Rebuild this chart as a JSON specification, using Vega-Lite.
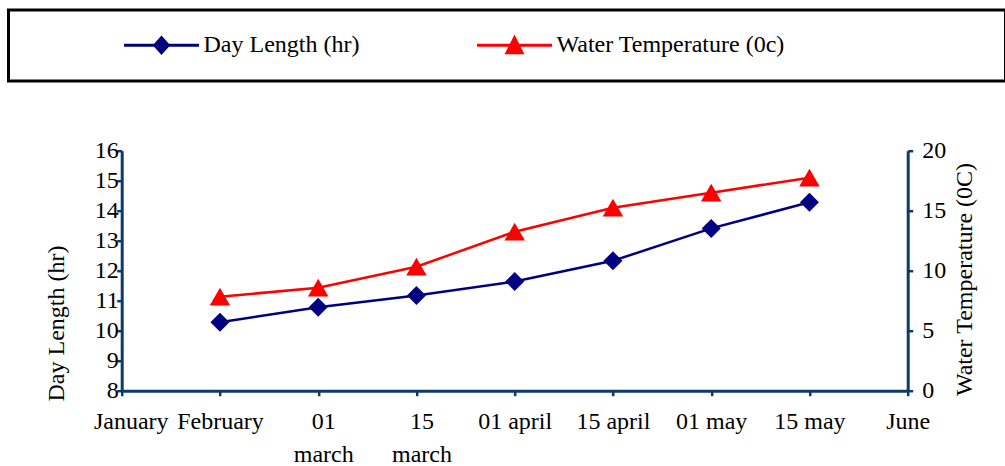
{
  "$schema": "https://vega.github.io/schema/vega-lite/v6.json",
  "width": 786,
  "height": 240,
  "autosize": "none",
  "padding": {"left": 121.7, "top": 150.7, "right": 97.3, "bottom": 75.3},
  "background": "white",
  "config": {
    "view": {"stroke": null},
    "font": "Liberation Serif",
    "axis": {
      "grid": false,
      "labelFont": "Liberation Serif",
      "labelFontSize": 24,
      "labelColor": "black",
      "titleFont": "Liberation Serif",
      "titleFontSize": 24,
      "titleFontWeight": "normal",
      "titleColor": "black",
      "domainColor": "#0e3a6a",
      "domainWidth": 3,
      "tickColor": "#0e3a6a",
      "tickWidth": 2.5,
      "tickSize": 5
    }
  },
  "data": {
    "values": [
      {"date": "February", "series": "Day Length (hr)", "value": 10.28},
      {"date": "01 march", "series": "Day Length (hr)", "value": 10.78},
      {"date": "15 march", "series": "Day Length (hr)", "value": 11.17},
      {"date": "01 april", "series": "Day Length (hr)", "value": 11.64},
      {"date": "15 april", "series": "Day Length (hr)", "value": 12.33},
      {"date": "01 may", "series": "Day Length (hr)", "value": 13.41},
      {"date": "15 may", "series": "Day Length (hr)", "value": 14.28},
      {"date": "February", "series": "Water Temperature (0c)", "value": 7.83},
      {"date": "01 march", "series": "Water Temperature (0c)", "value": 8.58},
      {"date": "15 march", "series": "Water Temperature (0c)", "value": 10.33},
      {"date": "01 april", "series": "Water Temperature (0c)", "value": 13.25},
      {"date": "15 april", "series": "Water Temperature (0c)", "value": 15.25},
      {"date": "01 may", "series": "Water Temperature (0c)", "value": 16.5},
      {"date": "15 may", "series": "Water Temperature (0c)", "value": 17.75}
    ]
  },
  "encoding": {
    "x": {
      "field": "date",
      "type": "ordinal",
      "scale": {
        "type": "point",
        "padding": 0,
        "domain": ["January", "February", "01 march", "15 march", "01 april", "15 april", "01 may", "15 may", "June"]
      },
      "axis": {
        "title": null,
        "labelAngle": 0,
        "labelPadding": 14,
        "labelOverlap": false,
        "labelLineHeight": 33,
        "labelOffset": {
          "condition": [
            {"test": "datum.value == 'January'", "value": 9},
            {"test": "indexof(datum.value, 'march') >= 0", "value": 5}
          ],
          "value": 0
        },
        "labelExpr": "datum.value == '01 march' ? ['01', 'march'] : datum.value == '15 march' ? ['15', 'march'] : datum.value"
      }
    },
    "color": {
      "field": "series",
      "type": "nominal",
      "scale": {
        "domain": ["Day Length (hr)", "Water Temperature (0c)"],
        "range": ["#000080", "#ff0000"]
      },
      "legend": {
        "orient": "none",
        "legendX": -113.2,
        "legendY": -140.7,
        "direction": "horizontal",
        "title": " ",
        "titleOrient": "right",
        "titleFontSize": 1,
        "titlePadding": 197,
        "padding": 23.5,
        "strokeColor": "black",
        "labelFont": "Liberation Serif",
        "labelFontSize": 24,
        "labelColor": "black",
        "labelLimit": 400,
        "symbolSize": 5625,
        "clipHeight": 23,
        "symbolOffset": 90.5,
        "labelOffset": 3,
        "columnPadding": 25,
        "symbolStrokeWidth": 3,
        "encode": {
          "legend": {
            "update": {
              "strokeWidth": {"value": 3}
            }
          },
          "symbols": {
            "update": {
              "shape": {"signal": "datum.value === 'Day Length (hr)' ? 'M-1,0H1M0,-0.2L0.18,0L0,0.2L-0.18,0Z' : 'M-1,0H1M0,-0.195L0.2,0.2L-0.2,0.2Z'"},
              "fill": {"signal": "datum.value === 'Day Length (hr)' ? '#000080' : '#ff0000'"},
              "stroke": {"signal": "datum.value === 'Day Length (hr)' ? '#000080' : '#ff0000'"},
              "strokeWidth": {"value": 3},
              "opacity": {"value": 1}
            }
          }
        }
      }
    }
  },
  "layer": [
    {
      "transform": [{"filter": "datum.series === 'Day Length (hr)'"}],
      "encoding": {
        "y": {
          "field": "value",
          "type": "quantitative",
          "scale": {"domain": [8, 16], "nice": false, "zero": false},
          "axis": {
            "orient": "left",
            "values": [8, 9, 10, 11, 12, 13, 14, 15, 16],
            "title": "Day Length (hr)",
            "titleX": -65,
            "titleY": 172.3,
            "titleAngle": 270,
            "titleBaseline": "middle",
            "titleAlign": "center",
            "labelPadding": -1.5
          }
        }
      },
      "layer": [
        {"mark": {"type": "line", "strokeWidth": 2.5}},
        {"mark": {"type": "point", "shape": "diamond", "filled": true, "size": 361, "opacity": 1}}
      ]
    },
    {
      "transform": [{"filter": "datum.series === 'Water Temperature (0c)'"}],
      "encoding": {
        "y": {
          "field": "value",
          "type": "quantitative",
          "scale": {"domain": [0, 20], "nice": false},
          "axis": {
            "orient": "right",
            "values": [0, 5, 10, 15, 20],
            "title": "Water Temperature (0C)",
            "titleX": 56.3,
            "titleY": 128.3,
            "titleAngle": 270,
            "titleBaseline": "middle",
            "titleAlign": "center",
            "labelPadding": 9
          }
        }
      },
      "layer": [
        {"mark": {"type": "line", "strokeWidth": 2.5}},
        {"mark": {"type": "point", "shape": "triangle-up", "filled": true, "size": 420, "opacity": 1}}
      ]
    }
  ],
  "resolve": {"scale": {"y": "independent"}}
}
